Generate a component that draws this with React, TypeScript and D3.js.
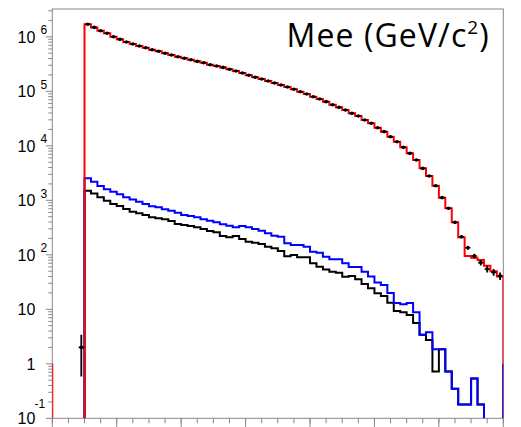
import React from 'react';
import * as d3 from 'd3';

const W = 521;
const H = 427;

// axis domains
const X_DOMAIN = [0, 3.5];
const Y_DOMAIN = [0.1, 3.24e6];
const X_MAJOR_STEP = 0.5;
const X_MINOR_STEP = 0.125;

// histogram binning
const BIN_START = 0.25;
const BIN_WIDTH = 0.05;
const DATA_START = 0.2;
const EDGE_LEVEL = 1;

// simulation (red)
const redHist = [
  1700000, 1490000, 1290000, 1160000, 1000000, 899000, 804000, 738000, 678000, 631000,
  579000, 542000, 498000, 463000, 432000, 404000, 380000, 355000, 335000, 308000,
  291000, 275000, 254000, 236000, 217000, 197000, 181000, 168000, 155000, 142000,
  131000, 120000, 109000, 98400, 89100, 79400, 72300, 64600, 56800, 50800,
  45400, 39400, 35200, 29700, 25900, 21500, 18200, 14700, 11900, 9380,
  7280, 5500, 3860, 2790, 1850, 1120, 713, 394, 209, 95,
  88, 80, 63, 50, 40,
];

// background (blue)
const blueHist = [
  2540, 2190, 1830, 1590, 1440, 1290, 1140, 1040, 942, 855,
  776, 745, 684, 646, 593, 537, 515, 488, 448, 423,
  394, 363, 342, 320, 337, 320, 297, 277, 248, 224,
  215, 163, 151, 151, 141, 114, 109, 92, 83, 83,
  70, 60, 60, 49, 40, 31, 28, 20, 13, 12.4,
  13, 8.8, 3.4, 3.8, 1.85, 1.85, 0.72, 0.35, 0.18, 0.18,
  0.54, 0.18, 0, 0, 0,
];

// background (black)
const blackHist = [
  1500, 1340, 1140, 984, 855, 785, 692, 618, 577, 537,
  488, 468, 448, 417, 367, 352, 337, 320, 297, 274,
  259, 221, 209, 221, 195, 174, 167, 158, 141, 132,
  117, 94, 99, 90, 90, 70, 60.5, 54, 49, 47,
  39.6, 40.8, 35.5, 29.1, 24.3, 19.7, 17.5, 13.2, 9.3, 8.8,
  7.85, 5.6, 3.4, 2.74, 0.72, 1.85, 0.72, 0.35, 0.18, 0.18,
  0.54, 0.18, 0, 0, 0,
];

// data points (starting one bin earlier, at DATA_START)
const dataCounts = [
  2,
  1700000, 1490000, 1290000, 1160000, 1000000, 899000, 804000, 738000, 678000, 631000,
  579000, 542000, 498000, 463000, 432000, 404000, 380000, 355000, 335000, 308000,
  291000, 275000, 254000, 236000, 217000, 197000, 181000, 168000, 155000, 142000,
  131000, 120000, 109000, 98400, 89100, 79400, 72300, 64600, 56800, 50800,
  45400, 39400, 35200, 29700, 25900, 21500, 18200, 14700, 11900, 9380,
  7280, 5500, 3860, 2790, 1850, 1120, 713, 394, 215, 135,
  95, 72, 55, 48, 41,
];

const yMajorExps = [-1, 0, 1, 2, 3, 4, 5, 6];
const titleMain = 'Mee (GeV/c';
const titleSup = '2';
const titleEnd = ')';

const LEFT = 52.3;
const RIGHT = 503.3;
const TOP = 9;
const BOTTOM = 418.3;

const x = d3.scaleLinear().domain(X_DOMAIN).range([LEFT, RIGHT]);
const y = d3.scaleLog().domain(Y_DOMAIN).range([BOTTOM, TOP]);

function histPath(vals: number[]): string {
  let p = '';
  let prevValid = false;
  vals.forEach((v, i) => {
    const xl = x(BIN_START + i * BIN_WIDTH);
    const xr = x(BIN_START + (i + 1) * BIN_WIDTH);
    if (v > Y_DOMAIN[0]) {
      const yy = y(v);
      if (!prevValid) p += `M${xl},${BOTTOM}`;
      p += `L${xl},${yy}L${xr},${yy}`;
      prevValid = true;
    } else {
      if (prevValid) p += `L${xl},${BOTTOM}`;
      prevValid = false;
    }
  });
  if (prevValid) p += `L${x(BIN_START + vals.length * BIN_WIDTH)},${BOTTOM}`;
  return p;
}

export default function App() {
  const xMajor = d3.range(X_DOMAIN[0], X_DOMAIN[1] + 1e-9, X_MAJOR_STEP);
  const xMinor = d3.range(X_DOMAIN[0], X_DOMAIN[1] + 1e-9, X_MINOR_STEP);
  const yMinor: number[] = [];
  for (let e = -1; e <= 6; e++) {
    for (let k = 2; k <= 9; k++) {
      const v = k * Math.pow(10, e);
      if (v <= Y_DOMAIN[1]) yMinor.push(v);
    }
  }
  const axisColor = '#888';
  const font = "'Liberation Sans', Arial, Helvetica, sans-serif";

  return (
    <svg width={W} height={H} style={{ position: 'absolute', left: 0, top: 0, background: '#fff' }}>
      <defs>
        <clipPath id="frameClip">
          <rect x={LEFT} y={TOP} width={RIGHT - LEFT} height={BOTTOM - TOP} />
        </clipPath>
      </defs>
      <rect x={0} y={0} width={W} height={H} fill="#fff" />
      {/* frame */}
      <rect x={LEFT} y={TOP} width={RIGHT - LEFT} height={BOTTOM - TOP} fill="none" stroke={axisColor} strokeWidth={1} />

      {/* x ticks */}
      {xMinor.map((v, i) => (
        <line key={'xm' + i} x1={x(v)} x2={x(v)} y1={BOTTOM} y2={BOTTOM + 5} stroke={axisColor} strokeWidth={1} />
      ))}
      {xMajor.map((v, i) => (
        <line key={'xM' + i} x1={x(v)} x2={x(v)} y1={BOTTOM} y2={BOTTOM + 9} stroke={axisColor} strokeWidth={1} />
      ))}
      {/* y ticks */}
      {yMinor.map((v, i) => (
        <line key={'ym' + i} x1={LEFT - 4} x2={LEFT} y1={y(v)} y2={y(v)} stroke={axisColor} strokeWidth={1} />
      ))}
      {yMajorExps.map((e) => (
        <line key={'yM' + e} x1={LEFT - 6.5} x2={LEFT} y1={y(Math.pow(10, e))} y2={y(Math.pow(10, e))} stroke={axisColor} strokeWidth={1} />
      ))}
      {/* y labels */}
      {yMajorExps.map((e) => {
        const ty = y(Math.pow(10, e));
        const base = e === 0 ? '1' : '10';
        const showExp = e !== 0 && e !== 1;
        return (
          <g key={'yl' + e} fontFamily={font} fill="#000">
            <text x={35.3} y={ty + 5.7} fontSize={16} textAnchor="end">{base}</text>
            {showExp && (
              <text x={e < 0 ? 34.5 : 40.5} y={e < 0 ? ty - 10 : ty - 2.5} fontSize={12}>{String(e)}</text>
            )}
          </g>
        );
      })}

      {/* histograms */}
      <g clipPath="url(#frameClip)" fill="none" strokeWidth={2} strokeLinejoin="miter">
        <path d={histPath(blackHist)} stroke="#000" />
        <path d={histPath(blueHist)} stroke="#0000ff" />
        <path d={histPath(redHist)} stroke="#ff0000" />
        <line x1={LEFT} x2={LEFT} y1={y(EDGE_LEVEL)} y2={BOTTOM} stroke="#ff0000" />
        <line x1={RIGHT} x2={RIGHT} y1={y(EDGE_LEVEL)} y2={BOTTOM} stroke="#0000ff" />
      </g>

      {/* data points */}
      <g clipPath="url(#frameClip)">
        {dataCounts.map((v, i) => {
          if (v <= Y_DOMAIN[0]) return null;
          const cx = x(DATA_START + (i + 0.5) * BIN_WIDTH);
          const cy = y(v);
          const err = Math.sqrt(v);
          const lo = Math.max(v - err, Y_DOMAIN[0]);
          const hi = v + err;
          return (
            <g key={'d' + i} stroke="#000" fill="#000">
              <line x1={cx} x2={cx} y1={y(lo)} y2={y(hi)} strokeWidth={1.8} />
              <line x1={cx - 2.6} x2={cx + 2.6} y1={cy} y2={cy} strokeWidth={1.6} />
              <circle cx={cx} cy={cy} r={1.8} stroke="none" />
            </g>
          );
        })}
      </g>

      {/* title */}
      <text x={286.5} y={46.5} fontFamily="'Open Sans', sans-serif" fontSize={32} letterSpacing={1.1} fill="#000">
        {titleMain}
        <tspan fontSize={19} dy={-12.5}>{titleSup}</tspan>
        <tspan dy={12.5}>{titleEnd}</tspan>
      </text>
    </svg>
  );
}
